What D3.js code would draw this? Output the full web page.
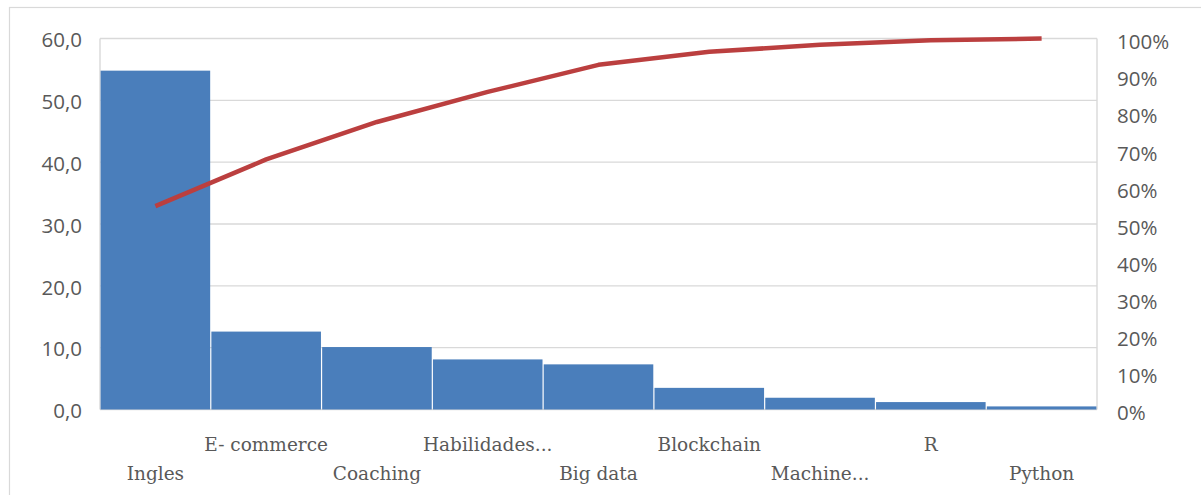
<!DOCTYPE html>
<html>
<head>
<meta charset="utf-8">
<script src="https://cdn.jsdelivr.net/npm/d3@7"></script>
<style>
  html, body { margin: 0; padding: 0; background: #fff; }
  svg { display: block; }
</style>
</head>
<body>
<svg id="chart" width="1201" height="495"></svg>
<script>
const categories = ["Ingles", "E- commerce", "Coaching", "Habilidades...", "Big data", "Blockchain", "Machine...", "R", "Python"];
const values = [54.8, 12.6, 10.1, 8.1, 7.3, 3.5, 1.9, 1.2, 0.5];
const leftTicks = [0, 10, 20, 30, 40, 50, 60];
const rightTicks = [0, 0.1, 0.2, 0.3, 0.4, 0.5, 0.6, 0.7, 0.8, 0.9, 1.0];

const total = d3.sum(values);
let run = 0;
const cumulative = values.map(v => (run += v) / total);

const svg = d3.select("#chart");
const W = 1201, H = 495;
const m = { left: 100, right: 1097, top: 38.5, bottom: 409.5 };

// outer frame
svg.append("rect")
  .attr("x", 9.5).attr("y", 7.5)
  .attr("width", W + 20).attr("height", H + 20)
  .attr("fill", "none").attr("stroke", "#d9d9d9").attr("stroke-width", 1.2);

const x = d3.scaleBand().domain(categories).range([m.left, m.right]).padding(0);
const y = d3.scaleLinear().domain([0, 60]).range([m.bottom, m.top]);
const y2 = d3.scaleLinear().domain([0, 1]).range([m.bottom, m.top]);

// gridlines
svg.append("g").selectAll("line").data(leftTicks).join("line")
  .attr("x1", m.left).attr("x2", m.right)
  .attr("y1", d => y(d)).attr("y2", d => y(d))
  .attr("stroke", "#d9d9d9").attr("stroke-width", 1.4);

// plot side borders
svg.append("line").attr("x1", m.left).attr("x2", m.left).attr("y1", m.top).attr("y2", m.bottom)
  .attr("stroke", "#d9d9d9").attr("stroke-width", 1.4);
svg.append("line").attr("x1", m.right).attr("x2", m.right).attr("y1", m.top).attr("y2", m.bottom)
  .attr("stroke", "#d9d9d9").attr("stroke-width", 1.4);

// bars
svg.append("g").selectAll("rect").data(values).join("rect")
  .attr("x", (d, i) => x(categories[i]) + 0.6)
  .attr("width", x.bandwidth() - 1.2)
  .attr("y", d => y(d))
  .attr("height", d => y(0) - y(d))
  .attr("fill", "#4a7ebb");

// left axis
const leftAxis = d3.axisLeft(y).tickValues(leftTicks).tickSize(0).tickPadding(18)
  .tickFormat(d => d3.format(".1f")(d).replace(".", ","));
const gl = svg.append("g").attr("transform", `translate(${m.left},0)`).call(leftAxis);
gl.select(".domain").remove();
gl.selectAll("text").attr("font-family", "Open Sans").attr("font-size", 20.5)
  .attr("fill", "#595959").attr("dy", "0.4em");

// right axis
const rightAxis = d3.axisRight(y2).tickValues(rightTicks).tickSize(0).tickPadding(20)
  .tickFormat(d3.format(".0%"));
const gr = svg.append("g").attr("transform", `translate(${m.right},0)`).call(rightAxis);
gr.select(".domain").remove();
gr.selectAll("text").attr("font-family", "Open Sans").attr("font-size", 20.5)
  .attr("fill", "#595959").attr("dy", "0.5em");

// cumulative line
const line = d3.line()
  .x((d, i) => x(categories[i]) + x.bandwidth() / 2)
  .y(d => y2(d));
svg.append("path").datum(cumulative)
  .attr("d", line)
  .attr("fill", "none").attr("stroke", "#bb3f3f").attr("stroke-width", 4.5)
  .attr("stroke-linejoin", "round");

// category labels (staggered)
const bottomAxis = d3.axisBottom(x).tickSize(0).tickPadding(0);
const gb = svg.append("g").attr("transform", `translate(0,${m.bottom})`).call(bottomAxis);
gb.select(".domain").remove();
gb.selectAll("text")
  .attr("font-family", "DejaVu Serif").attr("font-size", 18.5)
  .attr("fill", "#595959")
  .attr("dy", null)
  .attr("y", (d, i) => i % 2 === 0 ? 70 : 41);
</script>
</body>
</html>
